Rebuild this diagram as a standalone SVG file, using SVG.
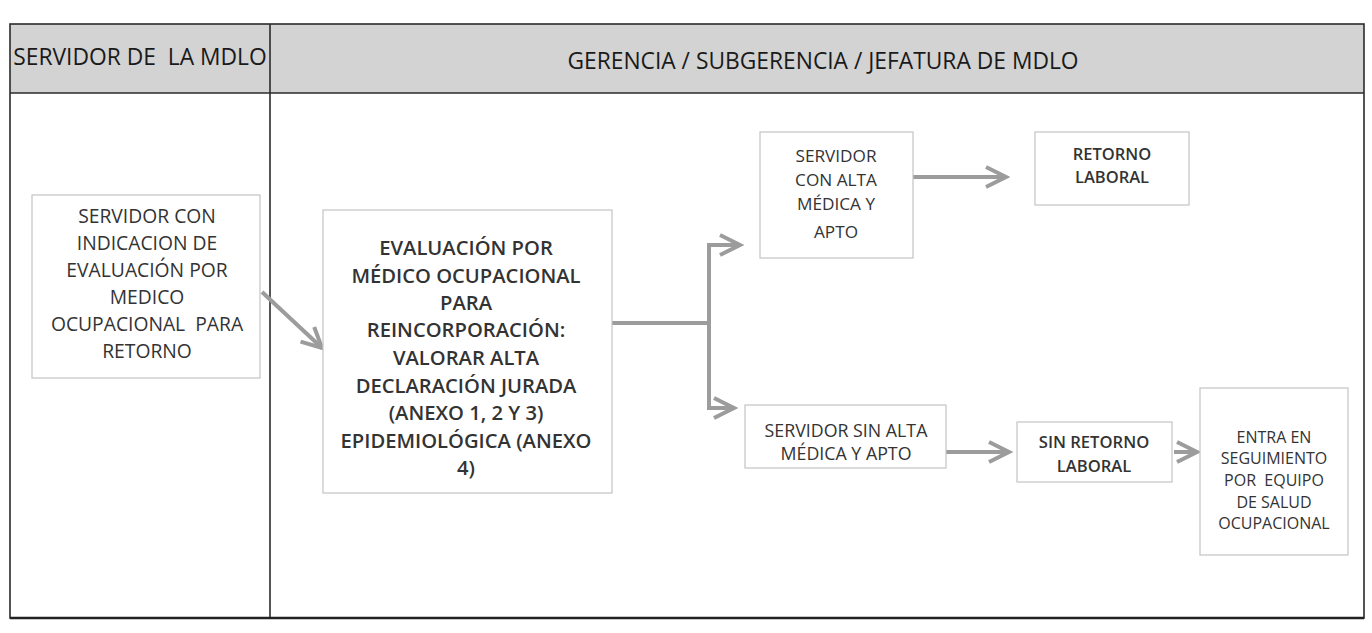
<svg xmlns="http://www.w3.org/2000/svg" width="1372" height="633" viewBox="0 0 1372 633">
<style>
  .frame{fill:none;stroke:#2b2b2b;stroke-width:1.6}
  .hdr{fill:#d3d3d3}
  .htxt{font-family:"Open Sans","Liberation Sans",sans-serif;font-size:22.8px;fill:#1a1a1a;text-anchor:middle;dominant-baseline:central;white-space:pre}
  .box{fill:#ffffff;stroke:#c4c4c4;stroke-width:1.2}
  .t{font-family:"Open Sans","Liberation Sans",sans-serif;fill:#333333;text-anchor:middle;dominant-baseline:central;white-space:pre}
  .conn{fill:none;stroke:#9c9c9c;stroke-width:4}
</style>
<defs>
  <marker id="arr" markerUnits="userSpaceOnUse" markerWidth="30" markerHeight="30" viewBox="-26 -15 30 30" refX="0" refY="0" orient="auto">
    <path d="M-20,-10 L0,0 L-20,10" fill="none" stroke="#9c9c9c" stroke-width="4" stroke-linejoin="miter"/>
  </marker>
</defs>
<rect width="1372" height="633" fill="#ffffff"/>
<g id="table">
  <rect class="hdr" x="10" y="24" width="1354" height="69"/>
  <rect class="frame" x="10" y="24" width="1354" height="594"/>
  <line class="frame" x1="10" y1="93" x2="1364" y2="93"/>
  <line class="frame" x1="270" y1="24" x2="270" y2="618"/>
  <line x1="10" y1="618" x2="1364" y2="618" stroke="#222" stroke-width="2.6"/>
  <text class="htxt" x="140" y="56">SERVIDOR DE&#160;&#160;LA MDLO</text>
  <text class="htxt" x="823" y="60">GERENCIA / SUBGERENCIA / JEFATURA DE MDLO</text>
</g>
<g id="connectors">
  <path class="conn" d="M262,292 L322,348" marker-end="url(#arr)"/>
  <path class="conn" d="M612,323 H709"/>
  <path class="conn" d="M709,325 V245 H740" marker-end="url(#arr)"/>
  <path class="conn" d="M709,321 V408 H734" marker-end="url(#arr)"/>
  <path class="conn" d="M913,177 H1006" marker-end="url(#arr)"/>
  <path class="conn" d="M946,452 H1009" marker-end="url(#arr)"/>
  <path class="conn" d="M1174,452 H1197" marker-end="url(#arr)"/>
</g>
<g id="n1">
  <rect class="box" x="32" y="195" width="228" height="183"/>
  <text class="t" font-size="19.3"><tspan x="147" y="215">SERVIDOR CON</tspan><tspan x="147" y="242">INDICACION DE</tspan><tspan x="147" y="269">EVALUACIÓN POR</tspan><tspan x="147" y="296">MEDICO</tspan><tspan x="147" y="323">OCUPACIONAL&#160;&#160;PARA</tspan><tspan x="147" y="350">RETORNO</tspan></text>
</g>
<g id="n2">
  <rect class="box" x="323" y="210" width="289" height="283"/>
  <text class="t" font-size="20.2" font-weight="600" fill="#2a2a2a"><tspan x="466" y="247">EVALUACIÓN POR</tspan><tspan x="466" y="275">MÉDICO OCUPACIONAL</tspan><tspan x="466" y="302">PARA</tspan><tspan x="466" y="329">REINCORPORACIÓN:</tspan><tspan x="466" y="357">VALORAR ALTA</tspan><tspan x="466" y="385">DECLARACIÓN JURADA</tspan><tspan x="466" y="412">(ANEXO 1, 2 Y 3)</tspan><tspan x="466" y="440">EPIDEMIOLÓGICA (ANEXO</tspan><tspan x="466" y="467">4)</tspan></text>
</g>
<g id="n3">
  <rect class="box" x="760" y="132" width="153" height="126"/>
  <text class="t" font-size="17.2"><tspan x="836" y="155">SERVIDOR</tspan><tspan x="836" y="179">CON ALTA</tspan><tspan x="836" y="203">MÉDICA Y</tspan><tspan x="836" y="231">APTO</tspan></text>
</g>
<g id="n4">
  <rect class="box" x="1035" y="132" width="154" height="73"/>
  <text class="t" font-size="16.5" font-weight="600"><tspan x="1112" y="153">RETORNO</tspan><tspan x="1112" y="176">LABORAL</tspan></text>
</g>
<g id="n5">
  <rect class="box" x="745" y="405" width="201" height="63"/>
  <text class="t" font-size="17.8"><tspan x="846" y="430">SERVIDOR SIN ALTA</tspan><tspan x="846" y="453">MÉDICA Y APTO</tspan></text>
</g>
<g id="n6">
  <rect class="box" x="1017" y="422" width="155" height="60"/>
  <text class="t" font-size="16.6" font-weight="600"><tspan x="1094" y="441">SIN RETORNO</tspan><tspan x="1094" y="465">LABORAL</tspan></text>
</g>
<g id="n7">
  <rect class="box" x="1200" y="388" width="148" height="167"/>
  <text class="t" font-size="16"><tspan x="1274" y="437">ENTRA EN</tspan><tspan x="1274" y="458">SEGUIMIENTO</tspan><tspan x="1274" y="480">POR&#160;&#160;EQUIPO</tspan><tspan x="1274" y="502">DE SALUD</tspan><tspan x="1274" y="523">OCUPACIONAL</tspan></text>
</g>
</svg>
